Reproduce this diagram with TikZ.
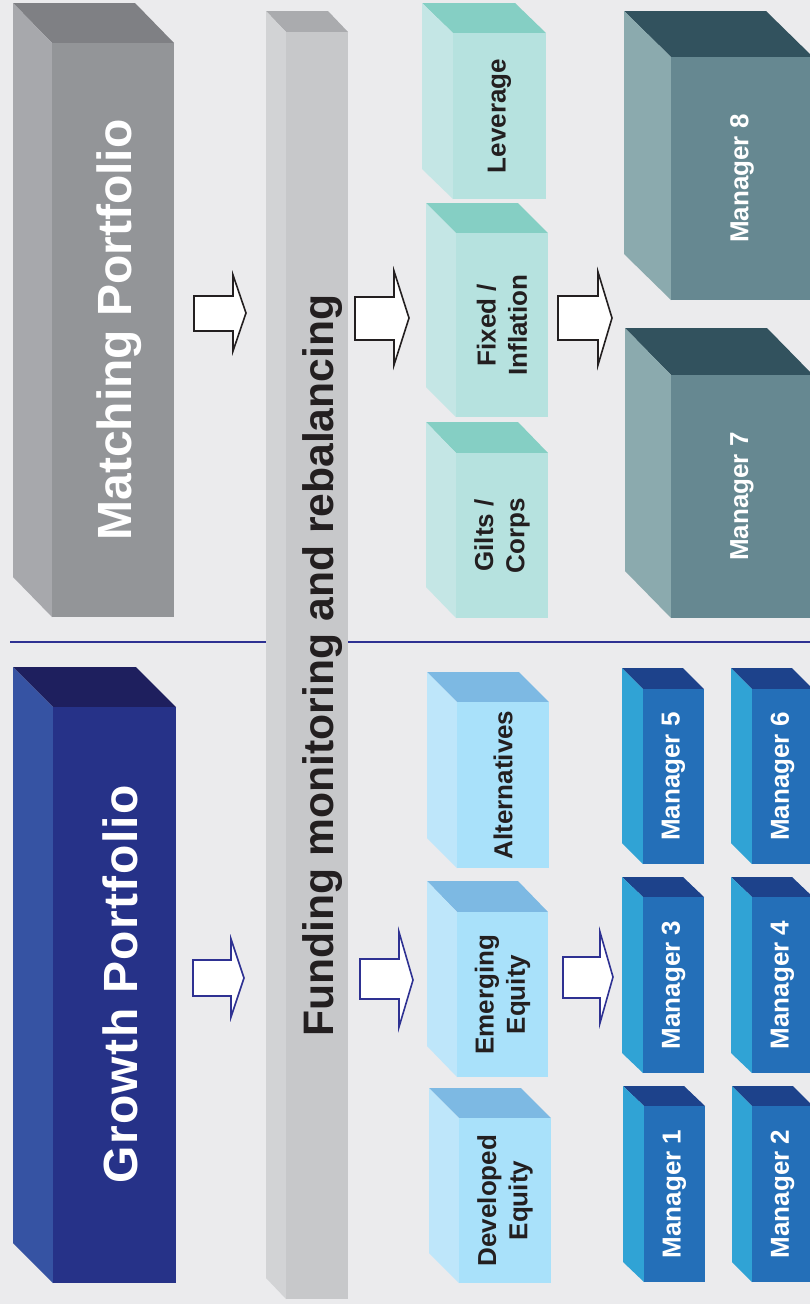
\documentclass[tikz,border=0pt]{standalone}
\usepackage{fontspec}
\setmainfont{Liberation Sans}
\definecolor{bg}{HTML}{EBEBED}
\definecolor{matT}{HTML}{7F8084}
\definecolor{matL}{HTML}{A7A8AC}
\definecolor{matF}{HTML}{939598}
\definecolor{groT}{HTML}{1E1F5E}
\definecolor{groL}{HTML}{3653A3}
\definecolor{groF}{HTML}{263288}
\definecolor{fndT}{HTML}{AAABAE}
\definecolor{fndL}{HTML}{D2D3D5}
\definecolor{fndF}{HTML}{C7C8CA}
\definecolor{teaT}{HTML}{85CFC4}
\definecolor{teaL}{HTML}{C4E6E5}
\definecolor{teaF}{HTML}{B6E2DF}
\definecolor{dtlT}{HTML}{32525E}
\definecolor{dtlL}{HTML}{8BAAAE}
\definecolor{dtlF}{HTML}{668891}
\definecolor{lbT}{HTML}{7DB9E3}
\definecolor{lbL}{HTML}{BEE6FA}
\definecolor{lbF}{HTML}{A9E1FA}
\definecolor{mbT}{HTML}{1D428B}
\definecolor{mbL}{HTML}{30A3D5}
\definecolor{mbF}{HTML}{246FB8}
\definecolor{ink}{HTML}{231F20}
\definecolor{navy}{HTML}{2E3192}
\newcommand\cubebox[8]{%
  \fill[fill=#8T] (#2,#5) -- ({#4-#3+#2},#5) -- (#4,#6) -- (#3,#6) -- cycle;
  \fill[fill=#8L] (#2,#5) -- (#3,#6) -- (#3,#7) -- (#2,{#7-#6+#5}) -- cycle;
  \node[face, fill=#8F, minimum width={(#4-#3)*0.75pt}, minimum height={(#7-#6)*0.75pt}] (#1) at ({(#3+#4)/2},{(#6+#7)/2}) {};
}
\newcommand\blockarrow[9]{%
  \draw[#9] (#1,#3) -- (#2,#3) -- (#2,#5) -- (#7,#8) -- (#2,#6) -- (#2,#4) -- (#1,#4) -- cycle;
}
\tikzset{
  face/.style={draw=none, inner sep=0pt, outer sep=0pt, rectangle},
  title/.style={rotate=90, text=white, inner sep=0pt, font=\fontsize{36}{43}\selectfont\bfseries},
  fundlbl/.style={rotate=90, text=ink, inner sep=0pt, font=\fontsize{32}{38}\selectfont\bfseries},
  sublbl/.style={rotate=90, text=ink, inner sep=0pt, align=center, font=\fontsize{19.5}{23.5}\selectfont\bfseries},
  mgrlbl/.style={rotate=90, text=white, inner sep=0pt, align=center, font=\fontsize{19.5}{23.5}\selectfont\bfseries},
  marr/.style={draw=ink, fill=white, line width=1.2pt, line join=miter},
  garr/.style={draw=navy, fill=white, line width=1.2pt, line join=miter},
  divider/.style={draw=navy, line width=1.5pt},
}
\begin{document}
\begin{tikzpicture}[x=0.75pt, y=-0.75pt]
\useasboundingbox (0,0) rectangle (810,1304);
\fill[bg] (0,0) rectangle (810,1304);
\clip (0,0) rectangle (810,1304);
% divider
\coordinate (dvA) at (10,642);
\coordinate (dvB) at (810,642);
\draw[divider] (dvA) -- (dvB);
% main boxes
\cubebox{mat}{13}{52}{174}{3}{43}{617}{mat}
\node[title] (matlbl) at ([xshift=4.5pt]mat.center) {Matching Portfolio};
\cubebox{gro}{13}{53}{176}{667}{707}{1283}{gro}
\node[title] (grolbl) at ([xshift=4.5pt,yshift=8pt]gro.center) {\addfontfeature{LetterSpace=3}Growth Portfolio};
\cubebox{fund}{266}{286}{348}{11}{32}{1299}{fnd}
\node[fundlbl] (fundlblnode) at ([xshift=4.5pt]fund.center) {Funding monitoring and rebalancing};
% matching sub-assets
\cubebox{lev}{422}{453}{546}{3}{33}{199}{tea}
\node[sublbl] (levlbl) at (lev.center) {Leverage};
\cubebox{fix}{426}{456}{548}{203}{233}{417}{tea}
\node[sublbl] (fixlbl) at (fix.center) {Fixed /\\Inflation};
\cubebox{gil}{426}{456}{548}{422}{453}{618}{tea}
\node[sublbl] (gillbl) at (gil.center) {Gilts /\\Corps};
\cubebox{m8}{624}{671}{813}{11}{57}{300}{dtl}
\node[mgrlbl] (m8lbl) at (m8.center) {Manager 8};
\cubebox{m7}{625}{671}{813}{328}{375}{618}{dtl}
\node[mgrlbl] (m7lbl) at (m7.center) {Manager 7};
% growth sub-assets
\cubebox{alt}{427}{457}{549}{672}{702}{868}{lb}
\node[sublbl] (altlbl) at (alt.center) {Alternatives};
\cubebox{eme}{427}{457}{548}{881}{912}{1077}{lb}
\node[sublbl] (emelbl) at (eme.center) {Emerging\\Equity};
\cubebox{dev}{429}{459}{551}{1088}{1118}{1283}{lb}
\node[sublbl] (devlbl) at (dev.center) {Developed\\Equity};
% managers 1-6
\cubebox{m5}{622}{643}{704}{668}{689}{864}{mb}
\node[mgrlbl] (m5lbl) at (m5.center) {Manager 5};
\cubebox{m6}{731}{752}{813}{668}{689}{864}{mb}
\node[mgrlbl] (m6lbl) at (m6.center) {Manager 6};
\cubebox{m3}{622}{643}{704}{877}{897}{1073}{mb}
\node[mgrlbl] (m3lbl) at (m3.center) {Manager 3};
\cubebox{m4}{731}{752}{813}{877}{897}{1073}{mb}
\node[mgrlbl] (m4lbl) at (m4.center) {Manager 4};
\cubebox{m1}{623}{644}{705}{1086}{1106}{1282}{mb}
\node[mgrlbl] (m1lbl) at (m1.center) {Manager 1};
\cubebox{m2}{732}{752}{813}{1086}{1106}{1282}{mb}
\node[mgrlbl] (m2lbl) at (m2.center) {Manager 2};
% block arrows
\blockarrow{194}{233}{296}{331}{275}{351}{246}{313}{marr}
\blockarrow{355}{394}{297}{340}{271}{365}{409}{318}{marr}
\blockarrow{558}{598}{296}{340}{272}{365}{612}{318}{marr}
\blockarrow{193}{231}{960}{996}{939}{1017}{244}{978}{garr}
\blockarrow{360}{399}{959}{999}{932}{1027}{413}{980}{garr}
\blockarrow{563}{600}{957}{998}{932}{1023}{613}{977}{garr}
\end{tikzpicture}
\end{document}
